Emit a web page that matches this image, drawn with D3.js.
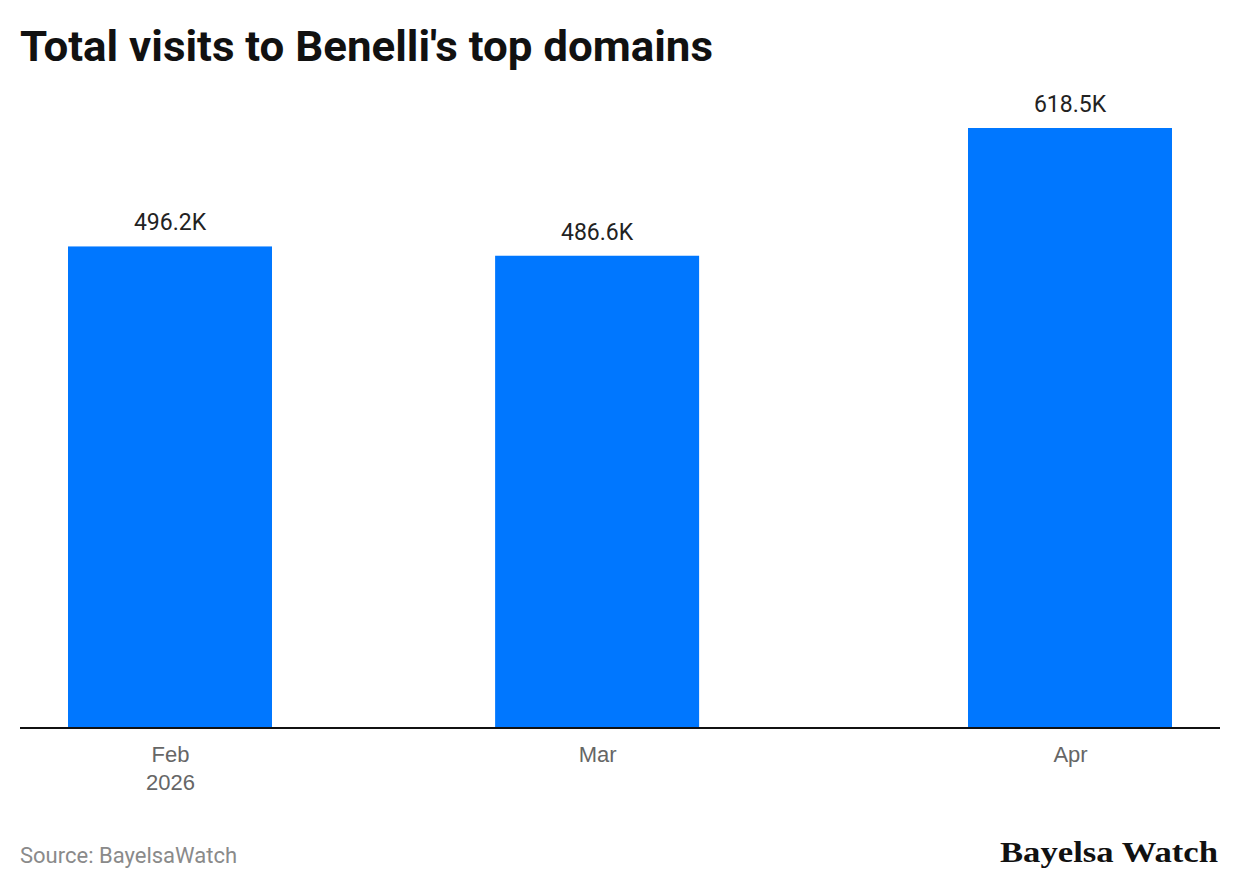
<!DOCTYPE html>
<html>
<head>
<meta charset="utf-8">
<script src="https://cdn.jsdelivr.net/npm/d3@7"></script>
<style>
  body { margin: 0; background: #fff; }
  svg { display: block; font-family: Roboto, "Noto Sans", sans-serif; }
</style>
</head>
<body>
<svg id="chart" width="1240" height="890"></svg>
<script>
// data
var months = ["2026-02-01", "2026-03-01", "2026-04-01"];
var visits = [496.2, 486.6, 618.5];
var valueLabels = ["496.2K", "486.6K", "618.5K"];
var tickLines = [["Feb", "2026"], ["Mar"], ["Apr"]];

var parseDate = d3.timeParse("%Y-%m-%d");
var dates = months.map(parseDate);

var svg = d3.select("#chart");
var baseY = 727, topY = 128, barW = 204;

// months are on a real time axis, so Feb-Mar gap is shorter than Mar-Apr
var x = d3.scaleTime().domain([dates[0], dates[2]]).range([170, 1070]);
var y = d3.scaleLinear().domain([0, d3.max(visits)]).range([baseY, topY]);

svg.append("text")
  .attr("x", 20).attr("y", 61)
  .attr("font-size", 42).attr("font-weight", 700)
  .attr("fill", "#111")
  .attr("textLength", 693).attr("lengthAdjust", "spacingAndGlyphs")
  .text("Total visits to Benelli's top domains");

var bars = svg.append("g");
bars.selectAll("rect").data(visits).join("rect")
  .attr("x", function (d, i) { return x(dates[i]) - barW / 2; })
  .attr("y", function (d) { return y(d); })
  .attr("width", barW)
  .attr("height", function (d) { return baseY - y(d); })
  .attr("fill", "#0077ff");

bars.selectAll("text").data(visits).join("text")
  .attr("x", function (d, i) { return x(dates[i]); })
  .attr("y", function (d) { return y(d) - 16; })
  .attr("text-anchor", "middle")
  .attr("font-size", 23).attr("fill", "#222")
  .text(function (d, i) { return valueLabels[i]; });

// x axis
var axis = svg.append("g").attr("transform", "translate(0," + baseY + ")");
axis.call(d3.axisBottom(x).tickValues(dates).tickSize(0).tickFormat(""));
axis.select(".domain").remove();
axis.append("line")
  .attr("x1", 20).attr("x2", 1220).attr("y1", 1).attr("y2", 1)
  .attr("stroke", "#111").attr("stroke-width", 2);

axis.selectAll(".tick").each(function (d, i) {
  var t = d3.select(this).append("text")
    .attr("text-anchor", "middle")
    .attr("font-size", 22).attr("fill", "#666");
  tickLines[i].forEach(function (s, j) {
    t.append("tspan").attr("x", 0).attr("y", 35 + j * 28).text(s);
  });
});

svg.append("text")
  .attr("x", 20).attr("y", 863)
  .attr("font-size", 22).attr("fill", "#8a8a8a")
  .text("Source: BayelsaWatch");

svg.append("text")
  .attr("x", 1218).attr("y", 862)
  .attr("text-anchor", "end")
  .attr("font-family", "'Liberation Serif', 'DejaVu Serif', serif")
  .attr("font-size", 30).attr("font-weight", 700)
  .attr("fill", "#111")
  .attr("textLength", 218).attr("lengthAdjust", "spacingAndGlyphs")
  .text("Bayelsa Watch");
</script>
</body>
</html>
